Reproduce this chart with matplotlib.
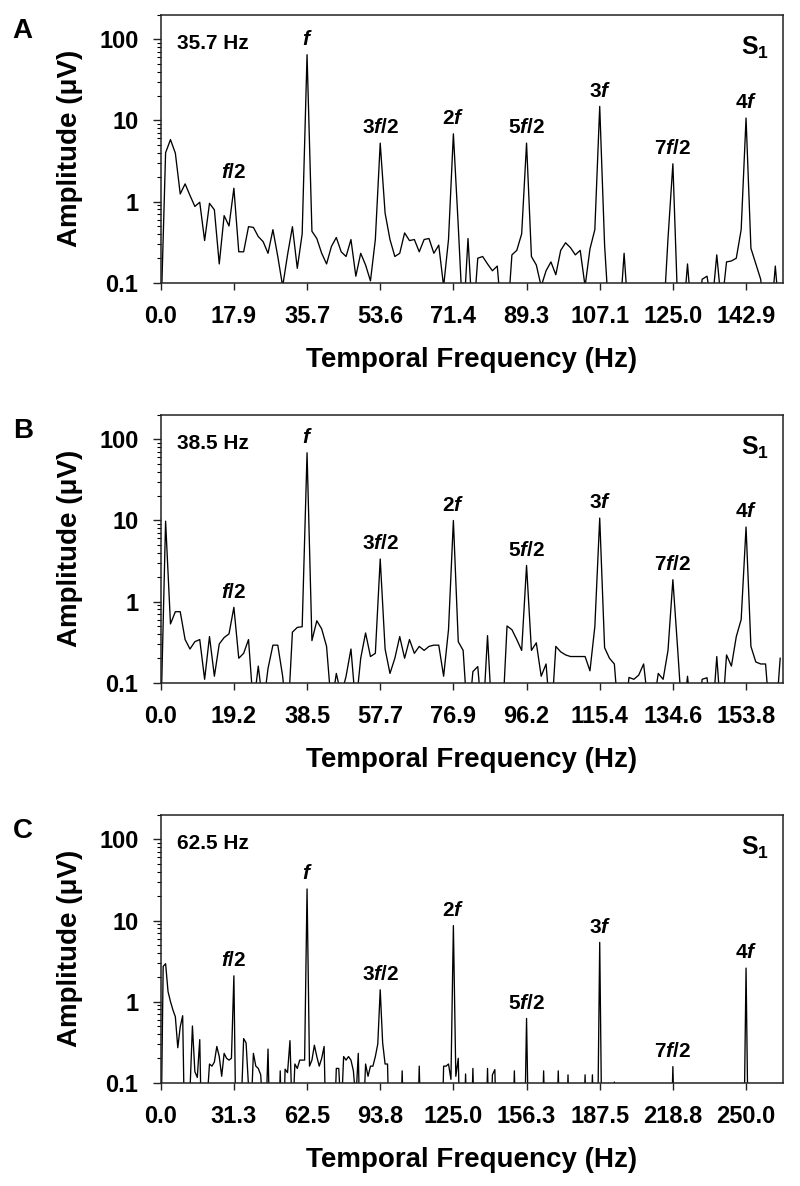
import matplotlib
matplotlib.use('Agg')
import matplotlib.pyplot as plt
import numpy as np

plt.rcParams['font.family'] = ['Liberation Sans', 'DejaVu Sans']
plt.rcParams['font.weight'] = 'bold'
plt.rcParams['mathtext.fontset'] = 'custom'
plt.rcParams['mathtext.rm'] = 'Liberation Sans:bold'
plt.rcParams['mathtext.it'] = 'Liberation Sans:italic:bold'
plt.rcParams['mathtext.bf'] = 'Liberation Sans:bold'

# stimulation frequencies (Hz) and spectral bins per stimulus cycle
stim_freq = [1000 / 28, 1000 / 26, 62.5]
bins_per_f = [30, 30, 60]
stim_text = ['35.7 Hz', '38.5 Hz', '62.5 Hz']
panel_names = ['A', 'B', 'C']

xticks_a = ['0.0', '17.9', '35.7', '53.6', '71.4', '89.3', '107.1', '125.0', '142.9']
xticks_b = ['0.0', '19.2', '38.5', '57.7', '76.9', '96.2', '115.4', '134.6', '153.8']
xticks_c = ['0.0', '31.3', '62.5', '93.8', '125.0', '156.3', '187.5', '218.8', '250.0']

peak_names = ['$f$/2', '$f$', '3$f$/2', '2$f$', '5$f$/2', '3$f$', '7$f$/2', '4$f$']

# amplitude spectra (uV), one value per frequency bin (values < 0.1 fall below the axis)
amp_a = [0.03, 4.0, 5.8, 3.95, 1.24, 1.65, 1.19, 0.87, 0.98, 0.33,
         0.95, 0.79, 0.17, 0.67, 0.50, 1.46, 0.24, 0.24, 0.49, 0.48,
         0.37, 0.32, 0.23, 0.45, 0.21, 0.09, 0.22, 0.49, 0.15, 0.40,
         64.7, 0.43, 0.35, 0.23, 0.17, 0.28, 0.36, 0.24, 0.21, 0.34,
         0.12, 0.23, 0.165, 0.105, 0.34, 5.25, 0.72, 0.34, 0.21, 0.23,
         0.41, 0.33, 0.34, 0.24, 0.34, 0.35, 0.23, 0.29, 0.09, 0.34,
         6.84, 0.5, 0.03, 0.35, 0.03, 0.20, 0.21, 0.17, 0.14, 0.16,
         0.03, 0.03, 0.22, 0.25, 0.40, 5.25, 0.21, 0.165, 0.09, 0.14,
         0.18, 0.125, 0.25, 0.31, 0.27, 0.22, 0.25, 0.09, 0.26, 0.45,
         14.9, 0.29, 0.03, 0.03, 0.03, 0.23, 0.03, 0.03, 0.03, 0.03,
         0.03, 0.03, 0.03, 0.03, 0.35, 2.92, 0.05, 0.03, 0.17, 0.03,
         0.03, 0.11, 0.12, 0.05, 0.22, 0.05, 0.18, 0.185, 0.2, 0.45,
         10.7, 0.265, 0.17, 0.11, 0.03, 0.03, 0.16, 0.03]

amp_b = [0.03, 9.8, 0.53, 0.75, 0.75, 0.34, 0.26, 0.32, 0.34, 0.11,
         0.37, 0.12, 0.30, 0.36, 0.40, 0.85, 0.20, 0.23, 0.34, 0.05,
         0.16, 0.05, 0.15, 0.29, 0.29, 0.12, 0.03, 0.42, 0.48, 0.49,
         68.4, 0.33, 0.58, 0.46, 0.28, 0.05, 0.13, 0.07, 0.12, 0.26,
         0.05, 0.20, 0.41, 0.21, 0.23, 3.35, 0.26, 0.13, 0.20, 0.37,
         0.20, 0.34, 0.23, 0.28, 0.25, 0.28, 0.29, 0.29, 0.12, 0.45,
         10.0, 0.32, 0.25, 0.03, 0.137, 0.158, 0.03, 0.38, 0.03, 0.03,
         0.03, 0.5, 0.45, 0.34, 0.25, 2.79, 0.25, 0.31, 0.12, 0.17,
         0.03, 0.28, 0.24, 0.22, 0.21, 0.21, 0.21, 0.21, 0.14, 0.49,
         10.7, 0.27, 0.20, 0.17, 0.03, 0.03, 0.116, 0.11, 0.124, 0.17,
         0.05, 0.05, 0.13, 0.11, 0.25, 1.86, 0.25, 0.03, 0.12, 0.03,
         0.03, 0.11, 0.115, 0.03, 0.21, 0.03, 0.22, 0.16, 0.37, 0.6,
         8.3, 0.28, 0.18, 0.17, 0.17, 0.03, 0.03, 0.2]

amp_c = [0.01, 2.72, 2.93, 1.33, 1.0, 0.79, 0.65, 0.27, 0.49, 0.67,
         0.01, 0.01, 0.08, 0.50, 0.137, 0.116, 0.34, 0.01, 0.01, 0.06,
         0.17, 0.16, 0.18, 0.28, 0.21, 0.12, 0.23, 0.20, 0.19, 0.20,
         2.08, 0.01, 0.01, 0.05, 0.35, 0.31, 0.09, 0.04, 0.23, 0.16,
         0.15, 0.125, 0.04, 0.03, 0.26, 0.01, 0.01, 0.01, 0.01, 0.14,
         0.01, 0.147, 0.133, 0.33, 0.03, 0.17, 0.15, 0.19, 0.19, 0.19,
         24.5, 0.16, 0.19, 0.29, 0.21, 0.16, 0.2, 0.28, 0.01, 0.01,
         0.01, 0.02, 0.15, 0.15, 0.04, 0.21, 0.19, 0.21, 0.19, 0.14,
         0.06, 0.23, 0.01, 0.03, 0.17, 0.12, 0.16, 0.16, 0.21, 0.30,
         1.40, 0.31, 0.17, 0.17, 0.01, 0.01, 0.01, 0.01, 0.01, 0.14,
         0.01, 0.01, 0.01, 0.01, 0.01, 0.01, 0.16, 0.01, 0.01, 0.01,
         0.01, 0.01, 0.01, 0.01, 0.01, 0.01, 0.16, 0.16, 0.17, 0.11,
         8.65, 0.12, 0.2, 0.01, 0.01, 0.128, 0.01, 0.01, 0.15, 0.01,
         0.01, 0.01, 0.01, 0.01, 0.15, 0.01, 0.125, 0.145, 0.01, 0.01,
         0.01, 0.01, 0.01, 0.01, 0.01, 0.14, 0.01, 0.01, 0.01, 0.01,
         0.62, 0.01, 0.01, 0.01, 0.01, 0.01, 0.01, 0.14, 0.01, 0.01,
         0.01, 0.01, 0.01, 0.14, 0.01, 0.01, 0.01, 0.125, 0.01, 0.01,
         0.01, 0.01, 0.01, 0.01, 0.125, 0.01, 0.01, 0.125, 0.01, 0.01,
         5.37, 0.01, 0.01, 0.01, 0.01, 0.01, 0.102, 0.01, 0.01, 0.01,
         0.01, 0.01, 0.01, 0.01, 0.01, 0.01, 0.01, 0.01, 0.01, 0.01,
         0.01, 0.01, 0.01, 0.01, 0.01, 0.01, 0.01, 0.01, 0.01, 0.01,
         0.158, 0.01, 0.01, 0.01, 0.01, 0.01, 0.01, 0.01, 0.01, 0.01,
         0.01, 0.01, 0.01, 0.01, 0.01, 0.01, 0.01, 0.01, 0.01, 0.01,
         0.01, 0.01, 0.01, 0.01, 0.01, 0.01, 0.01, 0.01, 0.01, 0.01,
         2.59, 0.01, 0.01, 0.01, 0.01, 0.01, 0.01, 0.01, 0.01, 0.01,
         0.01, 0.01, 0.01, 0.01, 0.01]

amps = [amp_a, amp_b, amp_c]
xtick_lists = [xticks_a, xticks_b, xticks_c]

fig = plt.figure(figsize=(8, 11.86), dpi=100)
bottoms = [0.7617, 0.4244, 0.0871]

for i in range(3):
    f0 = stim_freq[i]
    amp = np.array(amps[i])
    df = f0 / bins_per_f[i]
    freq = np.arange(len(amp)) * df

    ax = fig.add_axes([0.2009, bottoms[i], 0.7783, 0.2257])
    ax.plot(freq, amp, color='black', lw=0.95)
    ax.set_yscale('log')
    ax.set_ylim(0.1, 200)
    ax.set_xlim(0, 4.255 * f0)

    ax.set_yticks([0.1, 1, 10, 100])
    ax.set_yticklabels(['0.1', '1', '10', '100'])
    ax.set_xticks(np.arange(9) * f0 / 2)
    ax.set_xticklabels(xtick_lists[i])
    ax.tick_params(axis='both', which='major', direction='out', labelsize=17,
                   width=1.0, color='#222222')
    ax.tick_params(axis='y', which='major', length=6, pad=10)
    ax.tick_params(axis='y', which='minor', length=3, width=0.8, direction='out')
    ax.tick_params(axis='x', which='major', length=5, pad=11)
    ax.tick_params(axis='x', which='minor', bottom=False)
    for sp in ax.spines.values():
        sp.set_linewidth(1.1)
        sp.set_color('#222222')

    ax.text(-0.1465, 0.5, 'Amplitude (\u03bcV)', transform=ax.transAxes,
            rotation=90, ha='center', va='center', fontsize=20)
    ax.text(0.5, -0.29, 'Temporal Frequency (Hz)', transform=ax.transAxes,
            ha='center', va='center', fontsize=20)

    ax.text(0.026, 0.873, stim_text[i], transform=ax.transAxes,
            ha='left', va='baseline', fontsize=15)
    ax.text(0.977, 0.85, 'S$_1$', transform=ax.transAxes,
            ha='right', va='baseline', fontsize=18)

    # harmonic labels sit just above each peak
    for h in range(8):
        k = (h + 1) * bins_per_f[i] // 2
        ax.annotate(peak_names[h], xy=(freq[k], amp[k]), xytext=(0, 7),
                    textcoords='offset points', ha='center', va='baseline',
                    fontsize=15)

    top_px = (1 - bottoms[i] - 0.2257) * 1186
    fig.text(0.016, 1 - (top_px + 23) / 1186, panel_names[i],
             ha='left', va='baseline', fontsize=20)

fig.savefig('out.png', dpi=100)
